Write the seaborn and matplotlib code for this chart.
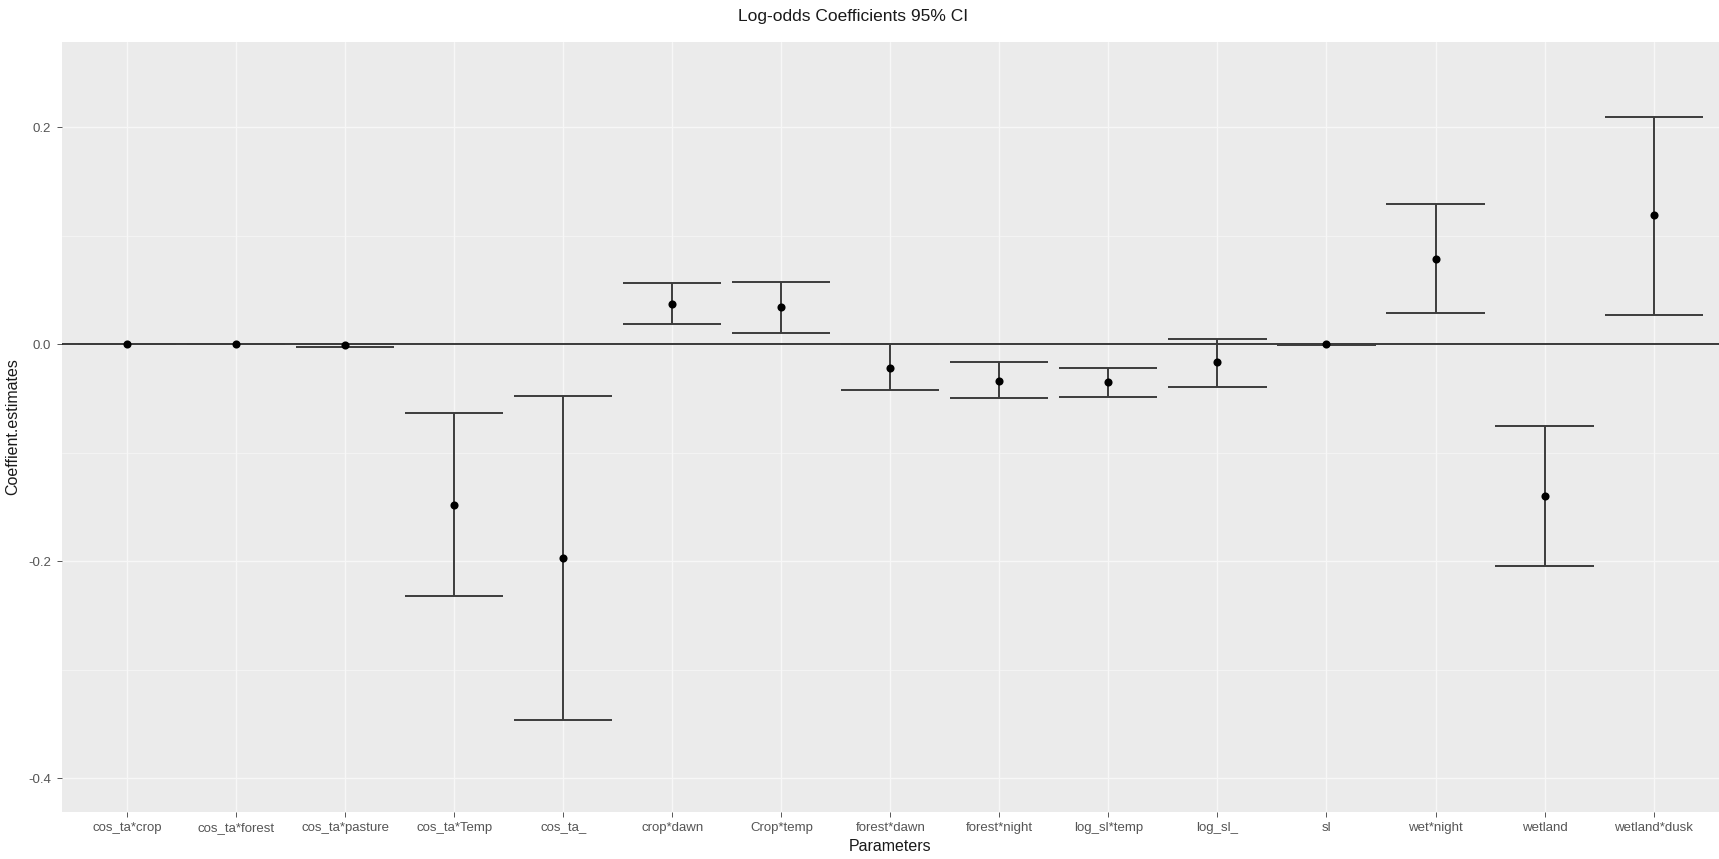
import matplotlib
matplotlib.use("Agg")
import matplotlib.pyplot as plt
from matplotlib.ticker import MultipleLocator
import numpy as np
import pandas as pd
import seaborn as sns

# Model terms and their log-odds estimates with 95% confidence bounds
parameters = ["cos_ta*crop", "cos_ta*forest", "cos_ta*pasture", "cos_ta*Temp", "cos_ta_",
              "crop*dawn", "Crop*temp", "forest*dawn", "forest*night", "log_sl*temp",
              "log_sl_", "sl", "wet*night", "wetland", "wetland*dusk"]
estimates = [0.0, 0.0, -0.001, -0.148, -0.197,
             0.037, 0.034, -0.0215, -0.034, -0.035,
             -0.0167, 0.0, 0.0788, -0.1396, 0.1188]
lower_ci = [0.0, 0.0, -0.0025, -0.2323, -0.3465,
            0.0186, 0.0106, -0.0422, -0.0496, -0.0484,
            -0.0392, -0.0008, 0.0285, -0.2044, 0.0274]
upper_ci = [0.0, 0.0, 0.0005, -0.0636, -0.0475,
            0.0564, 0.0573, 0.0005, -0.0167, -0.0222,
            0.0054, 0.0008, 0.1293, -0.0751, 0.2100]

df = pd.DataFrame({"Parameters": parameters, "estimate": estimates,
                   "lower": lower_ci, "upper": upper_ci})

sns.set_theme(style="darkgrid")
plt.rcParams["font.family"] = ["Liberation Sans", "DejaVu Sans"]

fig = plt.figure(figsize=(17.19, 8.59), dpi=100)
ax = fig.add_axes([0.0359, 0.0547, 0.9641, 0.8968])
ax.set_facecolor("#EBEBEB")

# reference line at zero
ax.axhline(0, color="#1a1a1a", lw=1.2, zorder=2)

xpos = np.arange(len(parameters))
bar_col = "#3c3c3c"
ax.vlines(xpos, df["lower"], df["upper"], color=bar_col, lw=1.4, zorder=3)
ax.hlines(df["lower"], xpos - 0.45, xpos + 0.45, color=bar_col, lw=1.4, zorder=3)
ax.hlines(df["upper"], xpos - 0.45, xpos + 0.45, color=bar_col, lw=1.4, zorder=3)

sns.pointplot(data=df, x="Parameters", y="estimate", order=parameters,
              linestyle="none", color="black", markers="o", markersize=3.8,
              errorbar=None, ax=ax, zorder=4)

ax.set_xlim(-0.6, len(parameters) - 0.4)
ax.set_ylim(-0.431, 0.279)
ax.yaxis.set_major_locator(MultipleLocator(0.2))
ax.yaxis.set_minor_locator(MultipleLocator(0.1))
ax.set_yticks([-0.4, -0.2, 0.0, 0.2])
ax.set_yticklabels(["-0.4", "-0.2", "0.0", "0.2"])

ax.grid(which="major", color="#F7F7F7", lw=1.0)
ax.grid(which="minor", axis="y", color="#F7F7F7", lw=0.5)
ax.set_axisbelow(True)
for s in ax.spines.values():
    s.set_visible(False)

ax.tick_params(axis="both", which="major", length=3.5, width=0.7, color="#555555",
               labelsize=9.5, labelcolor="#555555", pad=4, bottom=True, left=True)
ax.tick_params(axis="y", which="minor", length=0)

ax.set_xlabel("Parameters", fontsize=11.5, color="#1a1a1a", labelpad=3)
ax.set_ylabel("Coeffient.estimates", fontsize=11.5, color="#1a1a1a", labelpad=6)

fig.text(0.496, 0.981, "Log-odds Coefficients 95% CI", ha="center", va="center",
         fontsize=12.5, color="#1a1a1a")

fig.savefig("out.png", dpi=100, facecolor="white")
